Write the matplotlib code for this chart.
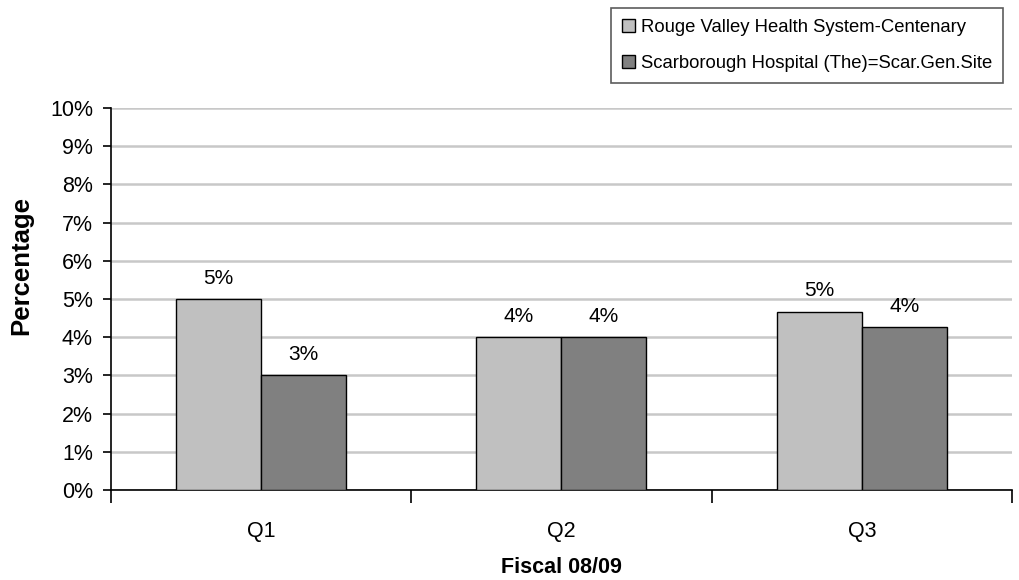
import matplotlib.pyplot as plt
import numpy as np
from matplotlib.ticker import FuncFormatter, FixedLocator

plt.rcParams['font.family'] = ['Liberation Sans', 'DejaVu Sans']

quarters = ["Q1", "Q2", "Q3"]
series_names = ["Rouge Valley Health System-Centenary",
                "Scarborough Hospital (The)=Scar.Gen.Site"]
centenary = [5.0, 4.0, 4.67]
scarborough = [3.0, 4.0, 4.27]
colors = ["#C0C0C0", "#808080"]

fig = plt.figure(figsize=(10.19, 5.8), dpi=100)
ax = fig.add_axes([0.1089, 0.1552, 0.8842, 0.6586])

x = np.arange(len(quarters))
w = 0.283
b1 = ax.bar(x - w / 2, centenary, w, color=colors[0], edgecolor="black",
            linewidth=1, label=series_names[0], zorder=3)
b2 = ax.bar(x + w / 2, scarborough, w, color=colors[1], edgecolor="black",
            linewidth=1, label=series_names[1], zorder=3)

for bars in (b1, b2):
    ax.bar_label(bars, fmt="%.0f%%", padding=8, fontsize=15)

ax.set_xlim(-0.5, 2.5)
ax.set_ylim(0, 10)
ax.set_yticks(np.arange(0, 11, 1))
ax.yaxis.set_major_formatter(FuncFormatter(lambda v, p: f"{v:.0f}%"))
ax.tick_params(axis="y", labelsize=15.5, length=6, width=1.2, pad=7)

# category boundaries carry the tick marks, labels sit at the centres
ax.xaxis.set_major_locator(FixedLocator([-0.5, 0.5, 1.5, 2.5]))
ax.set_xticklabels([])
ax.xaxis.set_minor_locator(FixedLocator(x))
ax.set_xticklabels(quarters, minor=True)
ax.tick_params(axis="x", which="major", length=9, width=1.2)
ax.tick_params(axis="x", which="minor", length=0, labelsize=15.5, pad=22)

ax.yaxis.grid(True, color="#C8C8C8", linewidth=1.8, zorder=0)
ax.set_axisbelow(True)
for s in ("top", "right"):
    ax.spines[s].set_visible(False)
for s in ("left", "bottom"):
    ax.spines[s].set_linewidth(1.2)

ax.set_ylabel("Percentage", fontsize=18.5, fontweight="bold")
ax.yaxis.set_label_coords(-0.0866, 0.587)
ax.set_xlabel("Fiscal 08/09", fontsize=15.5, fontweight="bold")
ax.xaxis.set_label_coords(0.5, -0.176)

leg = fig.legend(loc="upper right", bbox_to_anchor=(0.988, 0.992),
                 fontsize=13.3, frameon=True, fancybox=False, edgecolor="#333333",
                 handlelength=0.7, handleheight=0.7, handletextpad=0.3,
                 labelspacing=1.0, borderpad=0.6, borderaxespad=0.2)
leg.get_frame().set_linewidth(1.2)

fig.savefig("out.png", dpi=100)
